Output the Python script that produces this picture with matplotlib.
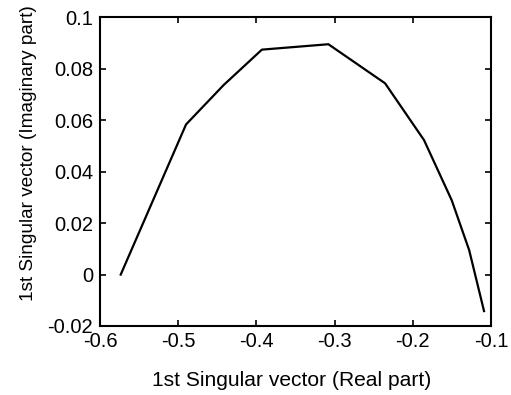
import matplotlib
matplotlib.use("Agg")
import matplotlib.pyplot as plt

# first singular vector, real vs imaginary part
real_part = [-0.5735, -0.490, -0.442, -0.393, -0.308, -0.2355, -0.1857, -0.1503, -0.128, -0.109]
imag_part = [0.0, 0.0584, 0.0737, 0.0875, 0.0896, 0.0744, 0.0523, 0.0289, 0.0095, -0.0142]

plt.rcParams['font.family'] = ['Liberation Sans', 'DejaVu Sans']

fig = plt.figure(figsize=(5.11, 3.95), dpi=100)
ax = fig.add_axes([0.1957, 0.1747, 0.7653, 0.781])
ax.plot(real_part, imag_part, color='black', linewidth=1.6)

ax.set_xlim(-0.6, -0.1)
ax.set_ylim(-0.02, 0.1)
ax.set_xticks([-0.6, -0.5, -0.4, -0.3, -0.2, -0.1])
ax.set_xticklabels(['-0.6', '-0.5', '-0.4', '-0.3', '-0.2', '-0.1'])
ax.set_yticks([-0.02, 0, 0.02, 0.04, 0.06, 0.08, 0.1])
ax.set_yticklabels(['-0.02', '0', '0.02', '0.04', '0.06', '0.08', '0.1'])
ax.tick_params(direction='in', top=True, right=True, length=4, width=1.2,
               labelsize=14.5)
ax.tick_params(axis='x', pad=4)
ax.tick_params(axis='y', pad=5)
for s in ax.spines.values():
    s.set_linewidth(1.5)

ax.set_xlabel('1st Singular vector (Real part)', fontsize=15.1)
ax.xaxis.set_label_coords(0.491, -0.145)
ax.set_ylabel('1st Singular vector (Imaginary part)', fontsize=13.7)
ax.yaxis.set_label_coords(-0.16, 0.561)

fig.savefig('out.png', dpi=100)
